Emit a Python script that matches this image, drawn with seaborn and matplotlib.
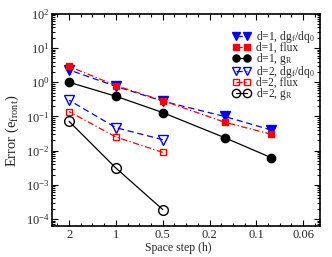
import matplotlib
matplotlib.use("Agg")
import matplotlib.pyplot as plt
import matplotlib.ticker as mticker
import seaborn as sns
import numpy as np
import pandas as pd

# ---- data ----
h1 = [2, 1, 0.5, 0.2, 0.1]
h2 = [2, 1, 0.5]
d1_dg = [2.3, 0.76, 0.28, 0.10, 0.040]
d1_flux = [2.9, 0.80, 0.29, 0.068, 0.030]
d1_gR = [1.0, 0.39, 0.13, 0.024, 0.0062]
d2_dg = [0.30, 0.047, 0.021]
d2_flux = [0.139, 0.025, 0.0089]
d2_gR = [0.072, 0.0031, 0.00019]

xtick_vals = [2, 1, 0.5, 0.25, 0.125, 0.0625]
xtick_labels = ["2", "1", "0.5", "0.2", "0.1", "0.06"]
labels = [r"d=1, dg$_\mathrm{f}$/dq$_0$", "d=1, flux", r"d=1, g$_\mathrm{R}$",
          r"d=2, dg$_\mathrm{f}$/dq$_0$", "d=2, flux", r"d=2, g$_\mathrm{R}$"]

sns.set_style("ticks")
plt.rcParams["font.family"] = ["Liberation Serif", "DejaVu Serif"]
plt.rcParams["mathtext.fontset"] = "custom"
plt.rcParams["mathtext.rm"] = "Liberation Serif"
plt.rcParams["mathtext.it"] = "Liberation Serif:italic"
plt.rcParams["mathtext.bf"] = "Liberation Serif:bold"

fig = plt.figure(figsize=(3.32, 2.57), dpi=100)
ax = fig.add_axes([0.157, 0.121, 0.807, 0.825])

series = [
    (h1, d1_dg, "blue", "v", "blue", (0, (5, 3)), 6.5),
    (h1, d1_flux, "red", "s", "red", (0, (5, 2, 1, 2)), 5),
    (h1, d1_gR, "black", "o", "black", "-", 6),
    (h2, d2_dg, "blue", "v", "none", (0, (5, 3)), 6.5),
    (h2, d2_flux, "red", "s", "none", (0, (5, 2, 1, 2)), 4.5),
    (h2, d2_gR, "black", "o", "none", "-", 7),
]
for (x, y, c, m, fc, ls, ms), lab in zip(series, labels):
    df = pd.DataFrame({"h": x, "err": y})
    sns.lineplot(data=df, x="h", y="err", ax=ax, color=c, marker=m,
                 markerfacecolor=fc, markeredgecolor=c, markeredgewidth=1.0,
                 markersize=ms, linestyle=ls, linewidth=0.9, label=lab,
                 errorbar=None)

ax.set_xscale("log")
ax.set_yscale("log")
ax.set_xlim(2.57, 0.0487)
ax.set_ylim(6.3e-5, 100)

ax.xaxis.set_major_locator(mticker.FixedLocator(xtick_vals))
ax.xaxis.set_major_formatter(mticker.FixedFormatter(xtick_labels))
minor = []
for a in [4, 2, 1, 0.5, 0.25, 0.125, 0.0625]:
    for k in (1, 2, 3):
        minor.append(a * 2 ** (-k / 4))
ax.xaxis.set_minor_locator(mticker.FixedLocator(minor))
ax.xaxis.set_minor_formatter(mticker.NullFormatter())
ax.yaxis.set_major_locator(mticker.LogLocator(base=10, numticks=10))
ax.yaxis.set_minor_locator(mticker.LogLocator(base=10, subs=np.arange(2, 10), numticks=20))
ax.yaxis.set_minor_formatter(mticker.NullFormatter())

ax.tick_params(which="both", direction="in", top=True, right=True, labelsize=9, width=0.8,
               color="black", pad=2)
ax.tick_params(which="major", length=4)
ax.tick_params(which="minor", length=2)
for s in ax.spines.values():
    s.set_linewidth(1.2)
    s.set_color("black")

ax.set_xlabel("Space step (h)", fontsize=8.5)
ax.xaxis.set_label_coords(0.47, -0.075)
ax.set_ylabel(r"Error (e$_\mathrm{front}$)", fontsize=10.5)
ax.yaxis.set_label_coords(-0.115, 0.45)

ax.legend(loc="upper right", frameon=False, numpoints=2, fontsize=8.3,
          handlelength=1.6, handletextpad=0.4, labelspacing=-0.27,
          markerscale=0.85, borderaxespad=0.1, bbox_to_anchor=(1.0, 0.955))

fig.savefig("out.png", dpi=100)
